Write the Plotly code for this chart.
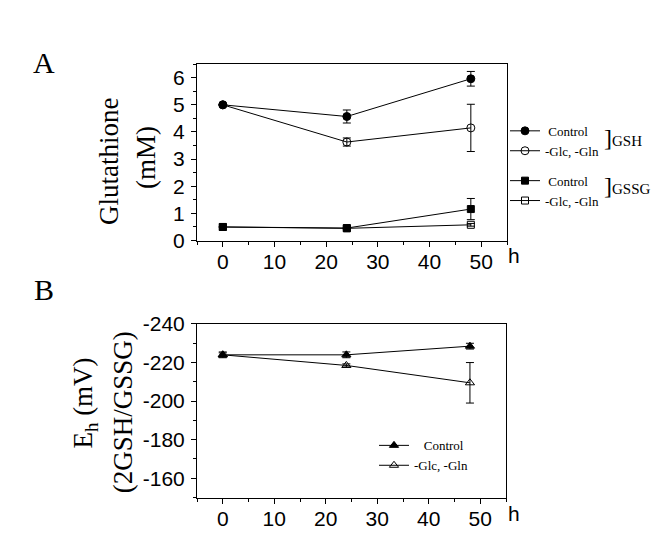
import plotly.graph_objects as go

# ---------------- data ----------------
hours = [0, 24, 48]

gsh_control = [5.0, 4.57, 5.96]
gsh_control_err = [0.0, 0.24, 0.27]
gsh_starved = [5.0, 3.63, 4.15]
gsh_starved_err = [0.0, 0.15, 0.87]

gssg_control = [0.50, 0.46, 1.16]
gssg_control_err = [0.0, 0.03, 0.39]
gssg_starved = [0.50, 0.45, 0.58]
gssg_starved_err = [0.0, 0.02, 0.05]

eh_control = [-224.0, -224.0, -228.5]
eh_control_err = [1.0, 1.5, 1.5]
eh_starved = [-224.0, -218.5, -209.5]
eh_starved_err = [1.5, 0.8, 10.5]

x_ticks = [0, 10, 20, 30, 40, 50]
a_y_ticks = [0, 1, 2, 3, 4, 5, 6]
b_y_ticks = [-240, -220, -200, -180, -160]
b_y_labels = ["-240", "-220", "-200", "-180", "-160"]

# ---------------- helpers ----------------
W, H = 668, 560
def px(x):
    return x / W
def py(y):
    return 1 - y / H

SANS = "Liberation Sans, Arial, sans-serif"
SERIF = "Liberation Serif, Times New Roman, serif"

fig = go.Figure()

def add(x, y, err, name, symbol, xa, ya, legend, group, size=8):
    fig.add_trace(go.Scatter(
        x=x, y=y, name=name, mode="lines+markers",
        xaxis=xa, yaxis=ya, legend=legend, legendgroup=group,
        line=dict(color="black", width=1),
        marker=dict(symbol=symbol, size=size, color="black",
                    line=dict(color="black", width=1)),
        error_y=dict(type="data", array=err, visible=True,
                     color="black", thickness=1, width=4),
    ))

add(hours, gsh_control, gsh_control_err, "\u00a0Control", "circle", "x", "y", "legend", "gsh")
add(hours, gsh_starved, gsh_starved_err, "-Glc, -Gln", "circle-open", "x", "y", "legend", "gsh")
add(hours, gssg_control, gssg_control_err, "\u00a0Control", "square", "x", "y", "legend", "gssg", 7)
add(hours, gssg_starved, gssg_starved_err, "-Glc, -Gln", "square-open", "x", "y", "legend", "gssg", 7)

add(hours, eh_control, eh_control_err, "\u00a0\u00a0\u00a0Control", "triangle-up", "x2", "y2", "legend2", "eh", 8)
add(hours, eh_starved, eh_starved_err, "-Glc, -Gln", "triangle-up-open", "x2", "y2", "legend2", "eh", 8)

xax = dict(range=[-5, 55], tickvals=x_ticks, ticks="outside", ticklen=5,
           tickwidth=1, tickcolor="black", showline=True, linecolor="black",
           linewidth=1, mirror=True, showgrid=False, zeroline=False,
           ticklabelstandoff=-3,
           tickfont=dict(family=SANS, size=21, color="black"),
           minor=dict(dtick=5, tick0=0, ticks="outside", ticklen=3,
                      tickcolor="black", tickwidth=1))

fig.update_layout(
    width=W, height=H,
    margin=dict(l=0, r=0, t=0, b=0),
    paper_bgcolor="white", plot_bgcolor="white",
    xaxis=dict(domain=[px(189), px(499)], anchor="y", **xax),
    yaxis=dict(domain=[py(230), py(46)], anchor="x", range=[0, 6.5],
               tickvals=a_y_ticks, ticks="outside", ticklen=5, tickwidth=1,
               tickcolor="black", showline=True, linecolor="black", linewidth=1,
               mirror=True, showgrid=False, zeroline=False,
               ticklabelstandoff=2,
               tickfont=dict(family=SANS, size=21, color="black"),
               minor=dict(dtick=0.5, tick0=0, ticks="outside", ticklen=3,
                          tickcolor="black", tickwidth=1)),
    xaxis2=dict(domain=[px(189), px(498)], anchor="y2", **xax),
    yaxis2=dict(domain=[py(498), py(317)], anchor="x2", range=[-150, -240],
                tickvals=b_y_ticks, ticktext=b_y_labels, ticks="outside",
                ticklen=5, tickwidth=1, tickcolor="black", showline=True,
                linecolor="black", linewidth=1, mirror=True, showgrid=False,
                zeroline=False, ticklabelstandoff=2,
                tickfont=dict(family=SANS, size=21, color="black"),
                minor=dict(dtick=10, tick0=-240, ticks="outside", ticklen=3,
                           tickcolor="black", tickwidth=1)),
    legend=dict(x=px(497), y=py(100), xanchor="left", yanchor="top",
                font=dict(family=SERIF, size=13, color="black"),
                itemwidth=30, tracegroupgap=10, bgcolor="rgba(0,0,0,0)",
                itemclick=False),
    legend2=dict(x=px(366), y=py(428), xanchor="left", yanchor="top",
                 font=dict(family=SERIF, size=13, color="black"),
                 itemwidth=30, tracegroupgap=0, bgcolor="rgba(0,0,0,0)",
                 itemclick=False),
    showlegend=True,
)

def ann(text, x, y, size, family=SERIF, angle=0, xanchor="center"):
    fig.add_annotation(text=text, x=px(x), y=py(y), xref="paper", yref="paper",
                       showarrow=False, textangle=angle, xanchor=xanchor,
                       yanchor="middle",
                       font=dict(family=family, size=size, color="black"))

ann("A", 36, 44, 30)
ann("B", 36, 281, 30)
ann("Glutathione", 101, 148, 27, angle=-90)
ann("(mM)", 138, 144, 27, angle=-90)
ann("E<sub>h</sub> (mV)", 77, 400, 27, angle=-90)
ann("(2GSH/GSSG)", 115, 409, 27, angle=-90)
ann("h", 506, 246, 21, family=SANS)
ann("h", 506, 515, 21, family=SANS)
ann("<span style='font-size:24px'>]</span>GSH", 594, 123, 15, xanchor="left")
ann("<span style='font-size:24px'>]</span>GSSG", 594, 173, 15, xanchor="left")

fig.write_html("out.html")
